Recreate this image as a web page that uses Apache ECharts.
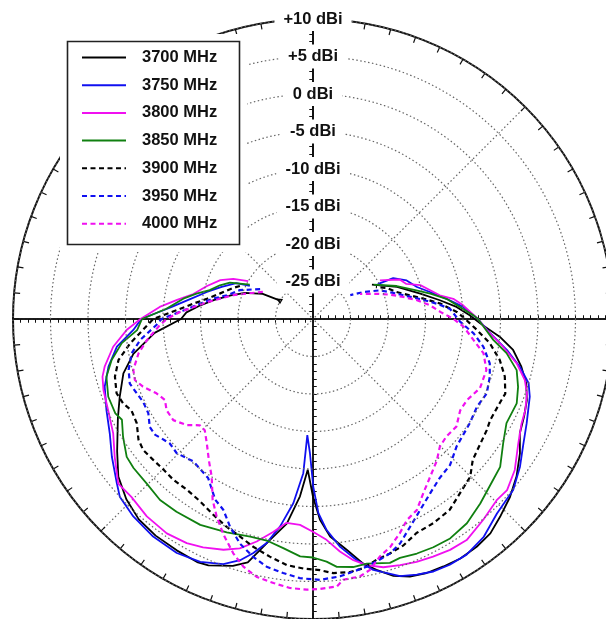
<!DOCTYPE html>
<html>
<head>
<meta charset="utf-8">
<script src="https://cdn.jsdelivr.net/npm/echarts@6/dist/echarts.min.js"></script>
<style>
html,body{margin:0;padding:0;background:#fff;}
#chart{width:606px;height:619px;}
</style>
</head>
<body>
<div id="chart"></div>
<script>
// ---------- data : [angle (deg, clockwise from top), gain (dBi)] ----------
const seriesNames = ['3700 MHz','3750 MHz','3800 MHz','3850 MHz','3900 MHz','3950 MHz','4000 MHz'];
const seriesColors = ['#000000','#1010f0','#f010f0','#108010','#000000','#1010f0','#f010f0'];
const seriesDashed = [false,false,false,false,true,true,true];

const s3700 = [[299,-24.8],[296.6,-22.5],[291,-20.3],[286,-18.6],[281,-16.6],[276.5,-14.7],[273,-13.1],[270,-12.4],[265,-8.8],[259,-5.6],[254,-3.7],[248,-2.2],[243,-0.8],[236,1.5],[231,3.4],[226,4.6],[221,5.4],[216,5.7],[210.5,5.8],[205.5,5.9],[203,5.7],[198,4.6],[195,3.6],[191,0.0],[187.3,-2.5],[184.2,-6.3],[182,-9.9],[180,-6.3],[178,-3.2],[175.5,-0.9],[171.7,1.1],[168.4,3.3],[165.8,4.5],[162.6,5.9],[159.4,6.7],[155.9,7.1],[152.2,7.3],[148.4,7.5],[144.3,7.4],[140.4,7.1],[136.6,6.3],[132.1,5.4],[127.7,4.3],[123,2.9],[118.9,1.5],[114.8,1.0],[110.8,0.5],[106.8,-0.3],[102.9,-1.5],[98.8,-3.0],[95.4,-5.0],[91.5,-7.7],[88.6,-9.1],[85.2,-10.8],[81.6,-12.9],[76.7,-15.3],[69.1,-18.0],[59.7,-20.9]];

const s3750 = [[297.6,-20.5],[295.1,-18.7],[289.4,-17.1],[284.3,-15.4],[279.2,-13.4],[274.9,-11.1],[272.2,-9.1],[270,-7.1],[266.5,-6.0],[262,-3.6],[256.9,-2.0],[252,-0.8],[246.2,0.1],[240.6,1.1],[235.6,2.5],[230.1,4.1],[227.4,5.0],[222.3,5.6],[216.3,6.0],[210.2,6.1],[204.9,5.7],[200.1,4.8],[196.8,3.6],[194.3,2.2],[191.7,0.5],[189,-2.0],[186.1,-5.3],[183.6,-9.4],[182.8,-14.5],[181.3,-12.1],[179.9,-7.6],[178.4,-4.1],[176.3,-1.8],[173.2,0.6],[169.7,2.7],[166.5,4.4],[161.3,6.2],[157.9,6.8],[154.5,7.3],[150.9,7.5],[146.9,7.5],[141.9,6.9],[136.6,5.7],[130.5,5.1],[125.5,3.9],[120.6,2.6],[116,1.7],[109.7,0.7],[106.6,0.0],[103,-1.7],[99.1,-3.8],[94.6,-6.3],[90,-8.0],[85.4,-9.9],[81.4,-12.0],[77,-14.0],[72.9,-15.5],[67.6,-16.5],[63,-18.0],[61.7,-20.2]];

const s3800 = [[300.3,-20.0],[296.7,-18.1],[292.8,-16.6],[287.3,-15.2],[281.8,-13.7],[278,-11.7],[274.5,-9.5],[270,-7.0],[266.6,-5.1],[262.1,-3.1],[257.1,-1.5],[254.7,-0.9],[251.3,-0.5],[246,-0.1],[240.2,0.7],[235.2,2.2],[229.8,4.0],[225.6,3.9],[220.1,4.4],[214.3,4.6],[209.4,4.3],[205.7,3.8],[201.2,3.0],[197.7,2.1],[194.2,0.6],[190.6,-1.1],[187.4,-2.6],[183.6,-2.5],[179.9,-1.6],[176.5,-0.5],[173.4,1.2],[170.5,2.6],[167.7,3.6],[164.2,4.4],[160.5,4.8],[156.9,5.2],[153.2,5.5],[149.3,5.8],[145.2,5.9],[139.7,5.1],[134.6,4.4],[131.4,4.5],[126.8,3.6],[121.2,2.0],[116.6,1.1],[113.2,0.8],[109.2,0.2],[106.1,-0.6],[102.3,-2.2],[98.3,-4.4],[93.6,-6.8],[90,-8.0],[84.8,-9.9],[81.8,-11.1],[79.4,-12.8],[76.2,-13.9],[72.5,-15.0],[69.4,-16.7],[65.5,-17.3],[60,-19.7]];

const s3850 = [[298.6,-20.4],[293.6,-17.9],[289.9,-16.8],[285.6,-15.7],[282.3,-14.1],[278.9,-12.5],[274,-10.4],[270,-7.2],[266.4,-6.5],[262.8,-4.3],[258.5,-2.6],[254.4,-1.4],[249.2,-0.8],[244.5,-0.8],[242.2,-1.2],[238.2,-0.2],[233.5,0.9],[230.3,1.1],[225.2,1.2],[220.2,1.6],[215.3,1.5],[208.7,1.3],[202,0.7],[196.1,0.2],[191.5,0.2],[187.4,0.8],[183.1,1.7],[180,1.8],[176.8,2.4],[174.5,3.2],[170.8,3.5],[167.6,3.4],[162.5,4.1],[160,3.9],[156.1,4.2],[152.2,4.4],[148,4.5],[143,4.1],[137.8,3.2],[131.8,2.2],[128.3,1.8],[123.2,0.3],[118.3,-0.7],[112.5,-0.6],[108.3,-1.2],[104.1,-2.0],[100,-3.8],[96.6,-5.8],[90,-8.0],[88.7,-8.6],[81.4,-12.0],[77.8,-14.0],[74.5,-15.7],[68.5,-18.0],[60.4,-20.7]];

const s3900 = [[294.3,-19.3],[291.3,-18.6],[285.2,-17.1],[280.8,-15.6],[277.3,-13.9],[273.7,-11.8],[270,-8.7],[262.4,-5.4],[258.1,-3.5],[253.8,-2.5],[249.3,-2.0],[246,-2.3],[243.3,-2.9],[239.4,-2.7],[235.3,-1.7],[232.3,-1.4],[228.6,-1.6],[224.8,-1.7],[220.9,-1.6],[216.4,-1.7],[211.7,-1.4],[207,-0.7],[202.6,0.0],[198.5,0.6],[194.7,1.4],[190.3,2.2],[186.1,3.0],[182.2,3.3],[178.4,3.5],[175.4,4.0],[171.7,4.1],[168.6,3.9],[165.2,3.2],[161.8,2.9],[158.2,2.5],[154.2,1.7],[149.5,1.6],[144.4,1.3],[139.9,0.4],[135.1,-0.3],[131.4,-1.6],[122.6,-2.5],[119.7,-2.8],[114.3,-2.7],[111.2,-2.5],[106.7,-3.3],[102.4,-4.5],[97.8,-6.2],[93.8,-8.1],[90,-9.7],[87.2,-10.8],[83.1,-12.9],[79.6,-15.0],[76.3,-16.7],[72.1,-18.3],[67.2,-19.3],[63.1,-20.6]];

const s3950 = [[299.5,-21.9],[291.5,-19.5],[285.4,-18.1],[281.5,-16.4],[277.7,-14.8],[273.8,-12.7],[270,-9.8],[267.8,-9.1],[263.1,-6.8],[259.3,-5.4],[254.6,-4.5],[250.6,-4.1],[247.1,-4.5],[244,-4.8],[240.2,-4.7],[236.5,-3.9],[233.7,-3.9],[231.7,-4.3],[229,-4.7],[225.4,-4.5],[220,-5.2],[213.4,-4.6],[208.4,-2.6],[205.2,-1.9],[201.8,-0.2],[198,1.5],[194.1,2.7],[190.6,3.6],[186.7,4.1],[182.9,4.6],[178.5,4.8],[174,4.5],[170.9,4.1],[167.8,3.8],[164.5,3.3],[161.8,2.9],[158.8,2.1],[155,0.6],[150.7,-0.8],[146.1,-2.0],[141.4,-2.9],[136.8,-3.3],[131.6,-4.4],[123.6,-4.9],[118.2,-5.2],[113.2,-4.8],[108.1,-5.2],[104.1,-5.7],[99.2,-7.0],[95.1,-8.5],[91,-10.4],[85.7,-11.7],[82.9,-13.4],[79.6,-15.4],[76.3,-17.1],[72.1,-18.7],[66.8,-20.3],[61.8,-22.4],[57.4,-24.1]];

const s4000 = [[298.4,-22.4],[290.9,-20.5],[286.6,-18.9],[282.3,-17.3],[279.1,-15.7],[275.7,-14.0],[273,-12.2],[270,-10.5],[267.8,-9.6],[262.8,-7.7],[258.9,-6.3],[254.2,-5.1],[251.1,-4.9],[248.3,-5.6],[244.6,-6.9],[241.3,-7.5],[238.1,-7.0],[234.1,-7.0],[230,-8.0],[226.8,-9.3],[224.2,-9.3],[220.5,-8.2],[216.4,-6.6],[212.7,-5.0],[209,-2.4],[206,-0.7],[202.6,1.1],[198.8,3.0],[195.7,4.3],[192.3,5.2],[188.5,5.6],[184.9,6.0],[181.3,6.1],[178.5,6.0],[174.9,5.8],[173.4,5.0],[169.7,4.9],[167.2,4.3],[164.3,2.9],[161.3,2.1],[157.9,0.8],[155,-0.4],[151.5,-1.0],[147.7,-2.5],[143.4,-3.8],[138.9,-4.9],[135.2,-6.0],[131.4,-6.3],[126.9,-6.1],[121.8,-6.9],[117.8,-6.8],[112.5,-5.9],[106.4,-5.9],[101.4,-6.8],[97.5,-8.4],[92.9,-9.9],[89.9,-11.3],[86.8,-13.0],[83.3,-14.3],[79.8,-15.9],[76.3,-17.6],[72.5,-19.2],[68.3,-20.9],[62,-22.9]];

const seriesData = [s3700,s3750,s3800,s3850,s3900,s3950,s4000];

// radius scale and ring tick labels
const rMin = -30, rMax = 10;
const ringValues = [-25,-20,-15,-10,-5,0,5,10];
const ringLabels = ['-25 dBi','-20 dBi','-15 dBi','-10 dBi','-5 dBi','0 dBi','+5 dBi','+10 dBi'];

// ---------- layout ----------
const C = [313, 319];
const R = 300;
const FONT = 'Liberation Sans, Arial, sans-serif';

const polar = [];
const angleAxis = [];
const radiusAxis = [];

// 0: main polar (data, outer circle, rings, labels, upward axis)
polar.push({center: C, radius: R});
angleAxis.push({
  polarIndex: 0, type: 'value', min: 0, max: 360, interval: 5,
  startAngle: 90, clockwise: true,
  axisLine: {show: true, lineStyle: {color: '#111', width: 2}},
  axisTick: {show: true, inside: true, length: 6, lineStyle: {color: '#111', width: 1.2}},
  axisLabel: {show: false},
  splitLine: {show: false},
  z: 3
});
radiusAxis.push({
  polarIndex: 0, type: 'value', min: rMin, max: rMax, interval: 5,
  axisLine: {show: true, lineStyle: {color: '#111', width: 1.5}},
  axisTick: {show: false},
  splitLine: {show: true, lineStyle: {color: '#666', width: 1.2, type: [1.5, 2.5]}},
  axisLabel: {
    show: true, showMinLabel: false, showMaxLabel: true,
    margin: 0, align: 'center', verticalAlign: 'middle',
    fontFamily: FONT, fontWeight: 'bold', fontSize: 16.5, color: '#111',
    backgroundColor: '#ffffff', padding: [4, 9, 3, 9],
    formatter: function (v) {
      const i = ringValues.indexOf(Math.round(v));
      return i >= 0 ? ringLabels[i] : '';
    }
  },
  z: 6
});

// diagonal dotted spokes
polar.push({center: C, radius: R});
angleAxis.push({
  polarIndex: 1, type: 'value', min: 0, max: 360, interval: 45,
  startAngle: 90, clockwise: true,
  axisLine: {show: false}, axisTick: {show: false}, axisLabel: {show: false},
  splitLine: {show: true, lineStyle: {color: '#666', width: 1.2, type: [1.5, 2.5]}},
  z: 1
});
radiusAxis.push({polarIndex: 1, type: 'value', min: rMin, max: rMax, show: false});

// four solid crossing axes with 1 dB ticks on both sides
const dirs = [90, 0, 270, 180];
let pi = 2;
dirs.forEach(function (sa) {
  [true, false].forEach(function (inside) {
    polar.push({center: C, radius: R});
    angleAxis.push({polarIndex: pi, type: 'value', min: 0, max: 360, startAngle: sa, show: false});
    radiusAxis.push({
      polarIndex: pi, type: 'value', min: rMin, max: rMax, interval: 1,
      axisLine: {show: true, lineStyle: {color: '#111', width: 1.5}},
      axisTick: {show: true, inside: inside, length: 3.5, lineStyle: {color: '#111', width: 1}},
      axisLabel: {show: false},
      splitLine: {show: false},
      z: 2
    });
    pi++;
  });
});

const series = seriesNames.map(function (name, i) {
  const pts = seriesData[i].map(function (p) { return [p[1], p[0]]; });
  const s = {
    name: name,
    type: 'line',
    coordinateSystem: 'polar',
    polarIndex: 0,
    data: pts,
    symbol: 'none',
    showSymbol: false,
    smooth: false,
    animation: false,
    lineStyle: {
      color: seriesColors[i],
      width: seriesDashed[i] ? 2.2 : 1.8,
      type: seriesDashed[i] ? [5, 3.5] : 'solid'
    },
    itemStyle: {color: seriesColors[i]},
    z: 4
  };
  if (i === 0) {
    s.markPoint = {
      symbol: 'triangle', symbolSize: 6, symbolRotate: 60, silent: true,
      itemStyle: {color: '#000'}, label: {show: false},
      data: [{coord: pts[0]}]
    };
  }
  return s;
});

const chart = echarts.init(document.getElementById('chart'), null, {renderer: 'canvas'});
chart.setOption({
  backgroundColor: '#ffffff',
  animation: false,
  polar: polar,
  angleAxis: angleAxis,
  radiusAxis: radiusAxis,
  graphic: [
    {type: 'rect', z: 10, silent: true,
     shape: {x: 60, y: 34, width: 187, height: 218},
     style: {fill: '#ffffff', stroke: null}},
    {type: 'rect', z: 11, silent: true,
     shape: {x: 67.5, y: 41.5, width: 172, height: 203},
     style: {fill: '#ffffff', stroke: '#222', lineWidth: 1.6}}
  ],
  legend: {
    show: true,
    orient: 'vertical',
    left: 81, top: 49,
    padding: 0,
    itemWidth: 44, itemHeight: 14,
    itemGap: 10.7,
    z: 30,
    data: seriesNames,
    itemStyle: {opacity: 0},
    textStyle: {
      fontFamily: FONT, fontWeight: 'bold', fontSize: 16.5, color: '#111',
      lineHeight: 17, padding: [0, 0, 0, 11]
    }
  },
  series: series
});
</script>
</body>
</html>
